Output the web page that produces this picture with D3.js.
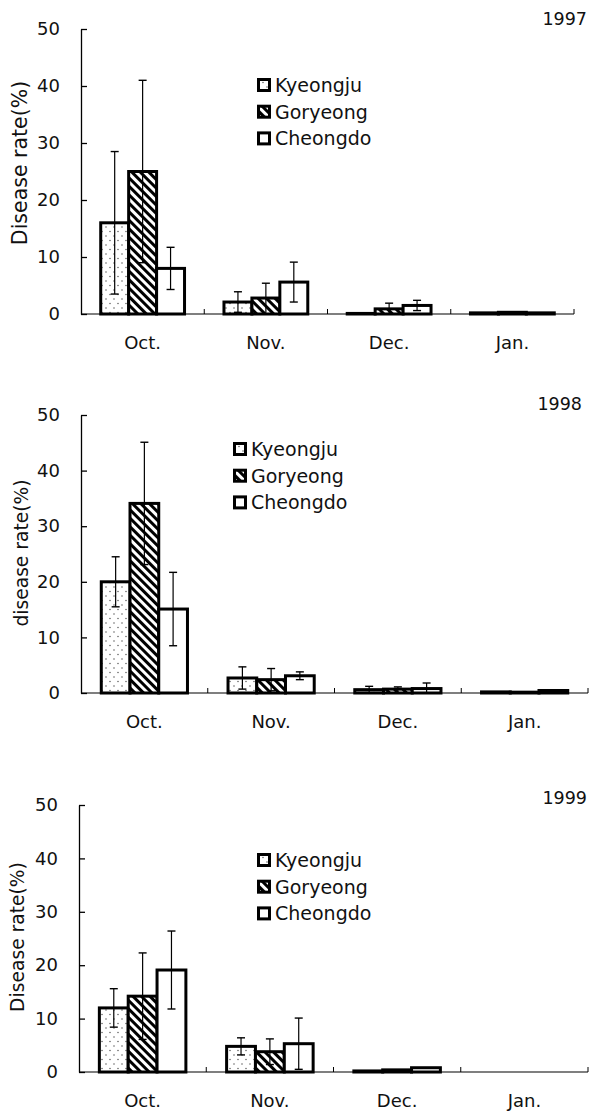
<!DOCTYPE html>
<html>
<head>
<meta charset="utf-8">
<script src="https://cdn.jsdelivr.net/npm/d3@7"></script>
<style>
  body { margin: 0; background: #fff; }
  text { font-family: "DejaVu Sans", sans-serif; fill: #111; }
</style>
</head>
<body>
<div id="chart"></div>
<script>
// data (rows = sites, columns = months)
const years = ["1997", "1998", "1999"];
const months = ["Oct.", "Nov.", "Dec.", "Jan."];
const sites = ["Kyeongju", "Goryeong", "Cheongdo"];
const yTicks = [0, 10, 20, 30, 40, 50];
const yTitles = ["Disease rate(%)", "disease rate(%)", "Disease rate(%)"];

const rate1997 = [[16, 2.1, 0.1, 0.2], [25, 2.8, 0.9, 0.3], [8, 5.6, 1.5, 0.2]];
const sd1997 = [[12.5, 1.8, 0, 0], [16, 2.6, 1.0, 0], [3.7, 3.5, 0.9, 0]];

const rate1998 = [[20, 2.7, 0.6, 0.2], [34.1, 2.4, 0.7, 0.15], [15.1, 3.1, 0.8, 0.45]];
const sd1998 = [[4.5, 2.0, 0.6, 0], [11, 2.0, 0.4, 0], [6.6, 0.7, 1.0, 0]];

const rate1999 = [[12, 4.8, 0.2, 0], [14.2, 3.8, 0.4, 0], [19.1, 5.3, 0.8, 0]];
const sd1999 = [[3.6, 1.6, 0, 0], [8.1, 2.4, 0, 0], [7.3, 4.8, 0, 0]];

const rates = [rate1997, rate1998, rate1999];
const sds = [sd1997, sd1998, sd1999];

// page layout for each panel
const panels = [
  {top: 29, bottom: 314, left: 81, right: 574, legX: 257, legY: 85, yearX: 587, yearY: 25, titleX: 20, titleY: 163, titleSize: 20.5},
  {top: 415, bottom: 693, left: 81, right: 588, legX: 233, legY: 449, yearX: 582, yearY: 410, titleX: 21, titleY: 553, titleSize: 18.7},
  {top: 805, bottom: 1072, left: 79, right: 588, legX: 257, legY: 860, yearX: 587, yearY: 804, titleX: 17, titleY: 937, titleSize: 18.7}
];

const width = 590, height = 1112;

const svg = d3.select("#chart")
  .append("svg")
  .attr("width", width)
  .attr("height", height);

// fills: dotted, hatched, plain
const defs = svg.append("defs");
const dots = defs.append("pattern")
  .attr("id", "dots")
  .attr("patternUnits", "userSpaceOnUse")
  .attr("width", 8).attr("height", 9);
dots.append("rect").attr("width", 8).attr("height", 9).attr("fill", "#fff");
dots.append("circle").attr("cx", 2).attr("cy", 2).attr("r", 0.8).attr("fill", "#666");
dots.append("circle").attr("cx", 6).attr("cy", 6.5).attr("r", 0.8).attr("fill", "#666");

const hatch = defs.append("pattern")
  .attr("id", "hatch")
  .attr("patternUnits", "userSpaceOnUse")
  .attr("width", 6).attr("height", 6)
  .attr("patternTransform", "rotate(-45)");
hatch.append("rect").attr("width", 6).attr("height", 6).attr("fill", "#fff");
hatch.append("rect").attr("width", 3).attr("height", 6).attr("fill", "#000");

const fill = d3.scaleOrdinal()
  .domain(sites)
  .range(["url(#dots)", "url(#hatch)", "#fff"]);

panels.forEach((p, pi) => {
  const g = svg.append("g");

  const y = d3.scaleLinear().domain([0, 50]).range([p.bottom, p.top]);

  const x = d3.scaleBand()
    .domain(months)
    .range([p.left, p.right])
    .paddingInner(0.32)
    .paddingOuter(0.16);

  const xSub = d3.scaleBand()
    .domain(sites)
    .range([0, x.bandwidth()]);

  // bars
  const bars = [];
  sites.forEach((s, si) => {
    months.forEach((m, mi) => {
      bars.push({site: s, month: m, v: rates[pi][si][mi], sd: sds[pi][si][mi]});
    });
  });

  // x axis baseline and category separators
  g.append("line")
    .attr("x1", p.left).attr("x2", p.right)
    .attr("y1", y(0)).attr("y2", y(0))
    .attr("stroke", "#000").attr("stroke-width", 1.2);

  const step = x.step();
  g.selectAll(".sep")
    .data(months)
    .join("line")
    .attr("x1", d => x(d) + x.bandwidth() + (step - x.bandwidth()) / 2)
    .attr("x2", d => x(d) + x.bandwidth() + (step - x.bandwidth()) / 2)
    .attr("y1", y(0)).attr("y2", y(0) - 5)
    .attr("stroke", "#000").attr("stroke-width", 1);

  g.selectAll(".bar")
    .data(bars.filter(d => d.v > 0))
    .join("rect")
    .attr("x", d => x(d.month) + xSub(d.site))
    .attr("width", xSub.bandwidth())
    .attr("y", d => y(d.v))
    .attr("height", d => y(0) - y(d.v))
    .attr("fill", d => fill(d.site))
    .attr("stroke", "#000")
    .attr("stroke-width", 3);

  // error bars
  const errs = bars.filter(d => d.sd > 0);
  const cx = d => x(d.month) + xSub(d.site) + xSub.bandwidth() / 2;
  const eg = g.selectAll(".err").data(errs).join("g");
  eg.append("line")
    .attr("x1", cx).attr("x2", cx)
    .attr("y1", d => y(Math.max(0, d.v - d.sd)))
    .attr("y2", d => y(d.v + d.sd))
    .attr("stroke", "#000").attr("stroke-width", 1.2);
  eg.append("line")
    .attr("x1", d => cx(d) - 4).attr("x2", d => cx(d) + 4)
    .attr("y1", d => y(d.v + d.sd)).attr("y2", d => y(d.v + d.sd))
    .attr("stroke", "#000").attr("stroke-width", 1.4);
  eg.filter(d => d.v - d.sd > 0.3)
    .append("line")
    .attr("x1", d => cx(d) - 4).attr("x2", d => cx(d) + 4)
    .attr("y1", d => y(d.v - d.sd)).attr("y2", d => y(d.v - d.sd))
    .attr("stroke", "#000").attr("stroke-width", 1.4);

  // y axis, ticks pointing inward
  const yAxis = g.append("g")
    .attr("transform", `translate(${p.left},0)`)
    .call(d3.axisLeft(y).tickValues(yTicks).tickSizeInner(-6).tickSizeOuter(0).tickPadding(21));
  yAxis.select(".domain").attr("stroke-width", 1.3);
  yAxis.selectAll(".tick line").attr("stroke-width", 1.3);
  yAxis.selectAll("text")
    .style("font-family", "DejaVu Sans, sans-serif")
    .style("font-size", "18px")
    .attr("fill", "#111");

  // month labels
  const xAxis = g.append("g")
    .attr("transform", `translate(0,${y(0)})`)
    .call(d3.axisBottom(x).tickSize(0).tickPadding(22));
  xAxis.select(".domain").remove();
  xAxis.selectAll("text")
    .style("font-family", "DejaVu Sans, sans-serif")
    .style("font-size", "18px")
    .attr("fill", "#111");

  // axis title
  g.append("text")
    .attr("transform", `translate(${p.titleX},${p.titleY}) rotate(-90)`)
    .attr("text-anchor", "middle")
    .attr("dy", "0.35em")
    .style("font-size", p.titleSize + "px")
    .text(yTitles[pi]);

  // year
  g.append("text")
    .attr("x", p.yearX).attr("y", p.yearY)
    .attr("text-anchor", "end")
    .style("font-size", "17.5px")
    .text(years[pi]);

  // legend
  const leg = g.selectAll(".leg")
    .data(sites)
    .join("g")
    .attr("transform", (d, i) => `translate(${p.legX},${p.legY + i * 26.7})`);
  leg.append("rect")
    .attr("x", 1.5).attr("y", -5.5)
    .attr("width", 11).attr("height", 11)
    .attr("fill", d => fill(d))
    .attr("stroke", "#000")
    .attr("stroke-width", 3);
  leg.append("text")
    .attr("x", 18)
    .attr("dy", "0.36em")
    .style("font-size", "19px")
    .text(d => d);
});
</script>
</body>
</html>
